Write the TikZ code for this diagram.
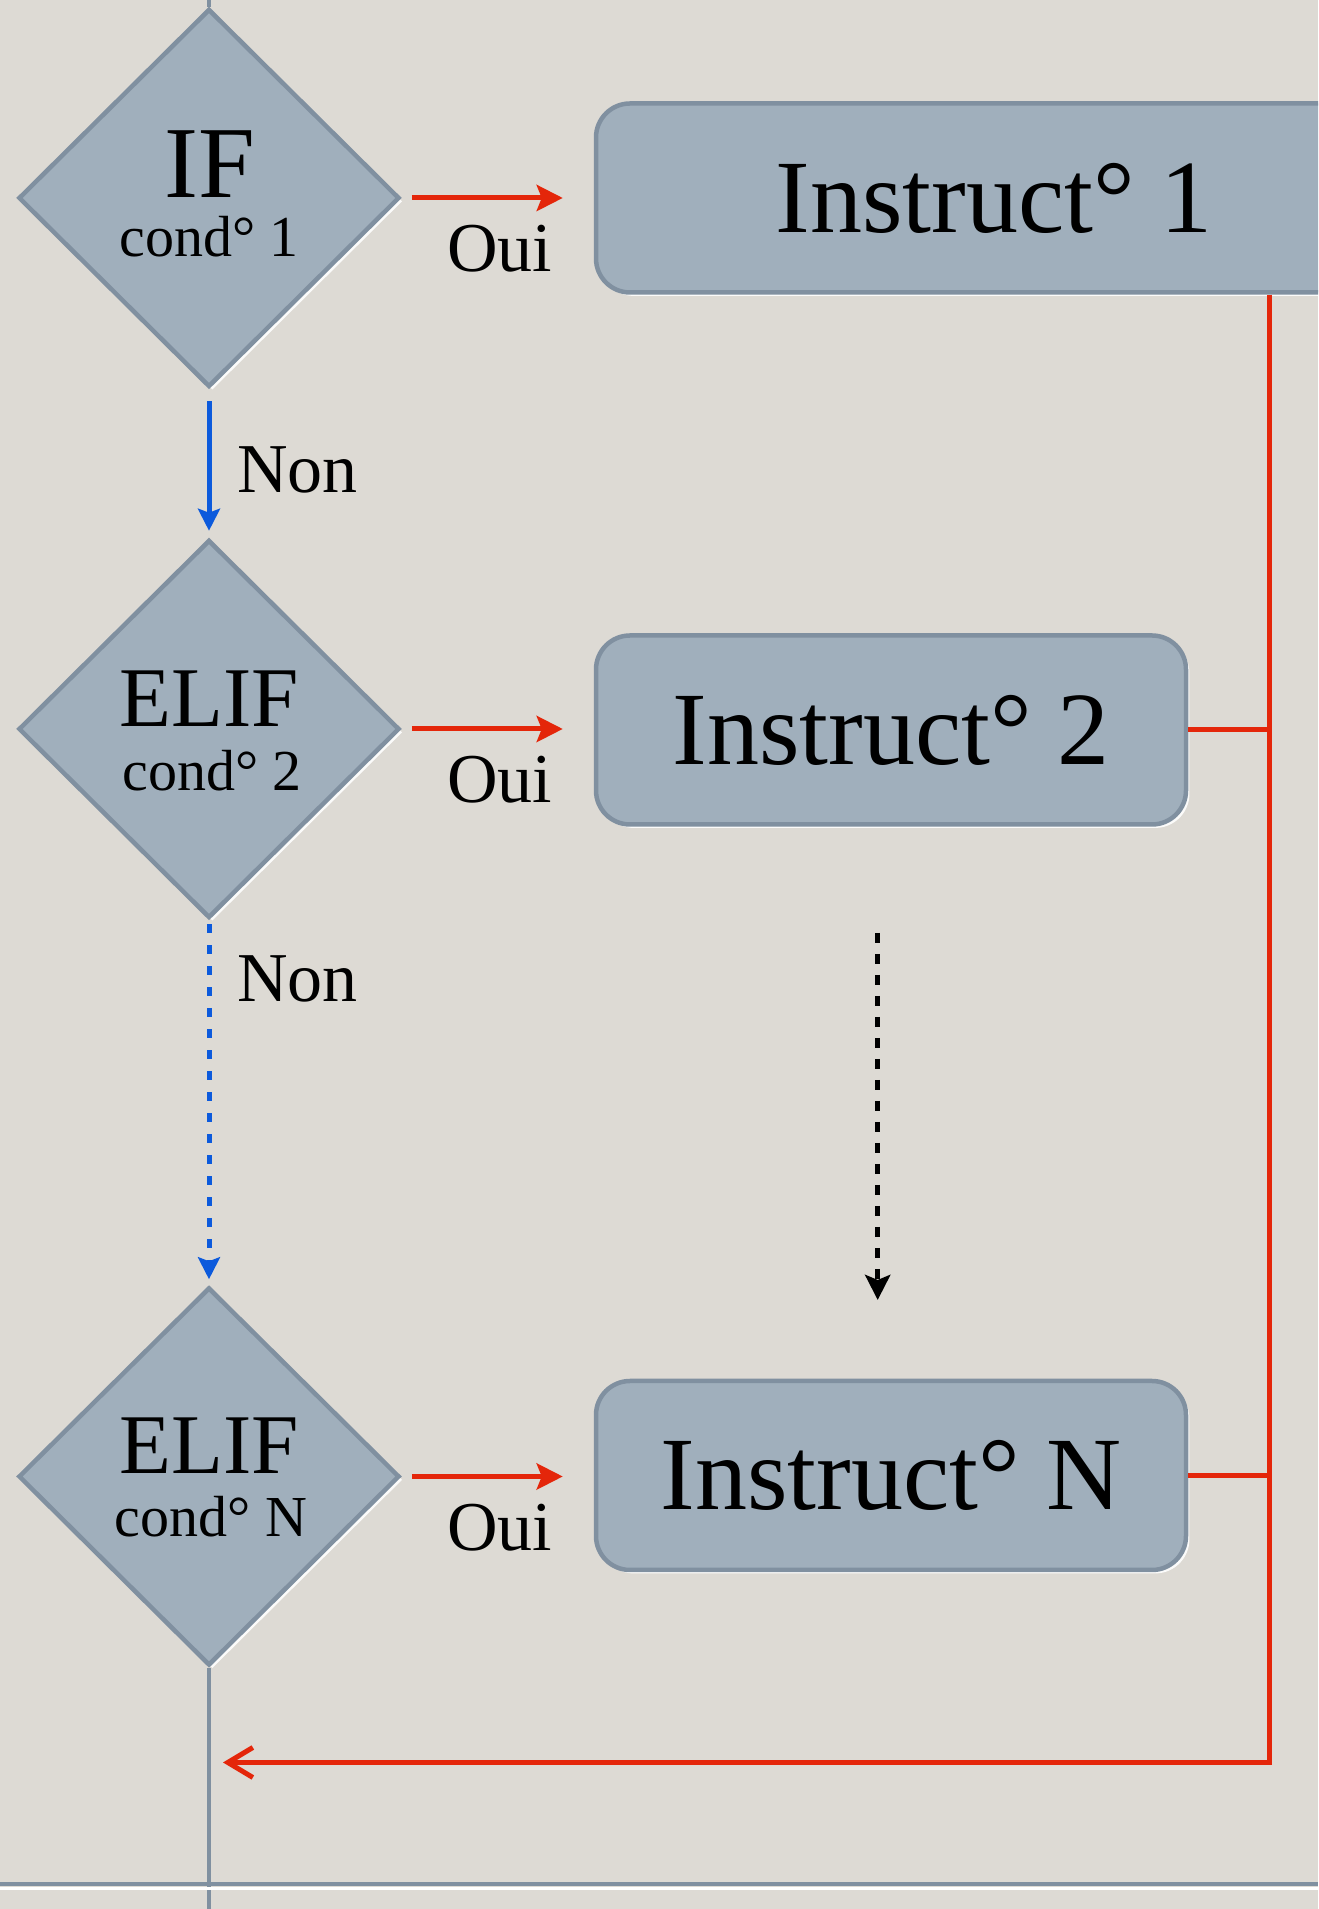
\documentclass[tikz,border=0pt]{standalone}
\usepackage{fontspec}
\setmainfont{Liberation Serif}
\usetikzlibrary{shapes.geometric,arrows.meta,shadows}

\definecolor{paper}{RGB}{221,218,212}
\definecolor{slate}{RGB}{160,175,188}
\definecolor{edge}{RGB}{128,144,160}
\definecolor{flowred}{RGB}{228,38,10}
\definecolor{flowblue}{RGB}{12,90,220}

\begin{document}
\begin{tikzpicture}[x=1pt,y=1pt,
  rim/.style={drop shadow={shadow xshift=3.4pt, shadow yshift=-3.4pt, fill=white, opacity=0.9}},
  cond/.style={diamond, shape aspect=1, draw=edge, line width=4.5pt, fill=slate,
    minimum width=381pt, minimum height=378pt, inner sep=0pt, rim},
  instr/.style={rectangle, rounded corners=34pt, draw=edge, line width=4.5pt, fill=slate,
    minimum height=189pt, inner sep=0pt, rim,
    font=\fontsize{104}{104}\selectfont, text=black},
  kw/.style={anchor=base, inner sep=0pt, font=\fontsize{#1}{#1}\selectfont},
  kw/.default=85,
  condtxt/.style={anchor=base, inner sep=0pt, font=\fontsize{58}{58}\selectfont},
  answer/.style={anchor=base, inner sep=0pt, font=\fontsize{70}{70}\selectfont},
  yes/.style={draw=flowred, line width=5pt,
    -{Stealth[length=26pt, width=26pt, inset=5pt]}, shorten <=10pt, shorten >=31pt},
  no/.style={draw=flowblue, line width=5pt,
    -{Stealth[length=22pt, width=22pt, inset=4pt]}},
  back/.style={draw=flowred, line width=5pt},
  wire/.style={draw=edge, line width=4.5pt}
]
\useasboundingbox (0,0) rectangle (1318,1909);
\fill[paper] (0,0) rectangle (1318,1909);
\clip (0,0) rectangle (1318,1909);

% decisions
\node[cond] (d1) at (209,1711) {};
\node[cond] (d2) at (209,1180) {};
\node[cond] (d3) at (209,432.5) {};

\node[kw=102] (d1w) at ([xshift=1pt]d1.center) {IF};
\node[condtxt] (d1c) at ([yshift=-59pt]d1.center) {cond° 1};
\node[kw] (d2w) at ([yshift=2pt]d2.center) {ELIF};
\node[condtxt] (d2c) at ([xshift=3pt,yshift=-62pt]d2.center) {cond° 2};
\node[kw] (d3w) at ([yshift=3pt]d3.center) {ELIF};
\node[condtxt] (d3c) at ([xshift=2pt,yshift=-60pt]d3.center) {cond° N};

% instruction blocks
\node[instr, minimum width=796pt] (b1) at (994,1711) {Instruct° 1};
\node[instr, minimum width=590pt] (b2) at (891,1179) {Instruct° 2};
\node[instr, minimum width=590pt] (bN) at (891,433.5) {Instruct° N};

% helper points
\coordinate (rc) at (1269,146.5);
\coordinate (top) at (209,1909);
\coordinate (bottom) at (209,0);
\coordinate (dtop) at (877.7,976);
\coordinate (dbot) at (877.7,609);

% incoming and outgoing flow
\draw[wire] (top) -- (d1.north);
\draw[wire] (d3.south) -- (bottom);

% "yes" branches
\draw[yes] (d1.east) -- (d1.east -| b1.west)
  node[answer, midway, xshift=2pt, yshift=-74pt] (o1) {Oui};
\draw[yes] (d2.east) -- (d2.east -| b2.west)
  node[answer, midway, xshift=2pt, yshift=-74pt] (o2) {Oui};
\draw[yes] (d3.east) -- (d3.east -| bN.west)
  node[answer, midway, xshift=2pt, yshift=-74pt] (o3) {Oui};

% "no" branches
\draw[no, shorten <=12pt, shorten >=7pt] (d1.south) -- (d2.north);
\node[answer, anchor=base west] (n1) at ([xshift=28pt,yshift=-103pt]d1.south) {Non};
\draw[no, dash pattern=on 9pt off 12pt, shorten <=4pt, shorten >=6pt] (d2.south) -- (d3.north);
\node[answer, anchor=base west] (n2) at ([xshift=28pt,yshift=-81pt]d2.south) {Non};

% omitted intermediate cases
\draw[line width=5.5pt, dash pattern=on 10pt off 11pt,
  -{Stealth[length=25pt, width=25pt, inset=5pt]}] (dtop) -- (dbot);

% merge back after any instruction block
\draw[back] (b2.east) -- (b2.east -| rc);
\draw[back] (bN.east) -- (bN.east -| rc);
\draw[back, -{Straight Barb[length=25pt, width=30pt]}, shorten >=14pt]
  (b1.south -| rc) -- (rc) -- (rc -| bottom);

% bottom rule
\draw[edge, line width=4.5pt] (0,25) -- (1318,25);
\draw[white, line width=2.5pt] (0,20.5) -- (1318,20.5);
\end{tikzpicture}
\end{document}
